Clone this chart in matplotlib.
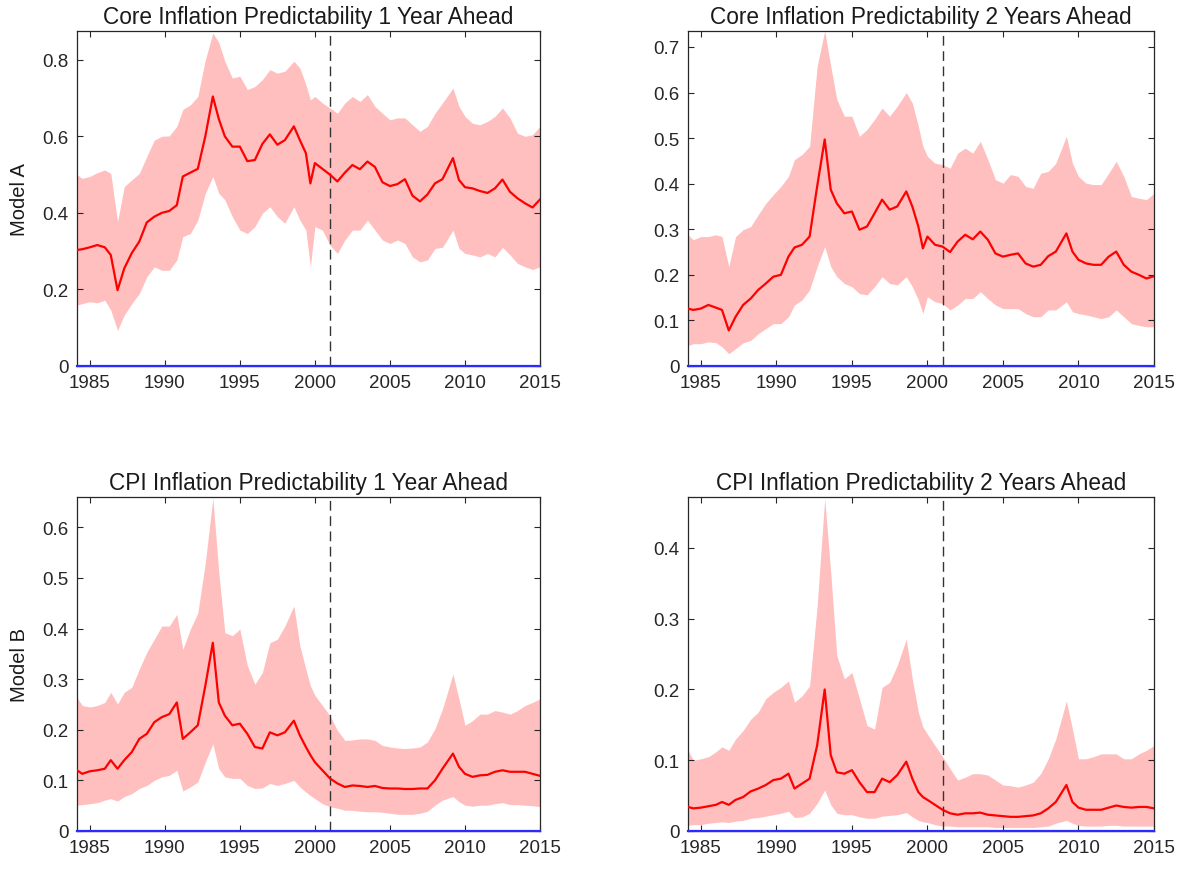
import matplotlib
matplotlib.use('Agg')
import matplotlib.pyplot as plt
from matplotlib.ticker import FormatStrFormatter
import numpy as np

plt.rcParams.update({
    'font.family': ['Liberation Sans', 'DejaVu Sans'],
    'font.size': 13.5,
    'text.color': '#262626',
    'axes.edgecolor': '#262626',
    'xtick.color': '#262626',
    'ytick.color': '#262626',
})

# shared time grid (years)
years = [1984.15, 1984.5, 1985.0, 1985.5, 1986.0, 1986.4, 1986.85, 1987.3, 1987.8, 1988.3,
         1988.8, 1989.3, 1989.8, 1990.3, 1990.8, 1991.2, 1991.7, 1992.2, 1992.7, 1993.2,
         1993.6, 1994.0, 1994.5, 1995.0, 1995.5, 1996.0, 1996.5, 1997.0, 1997.5, 1998.0,
         1998.6, 1999.0, 1999.4, 1999.7, 2000.0, 2000.5, 2001.0, 2001.5, 2002.0, 2002.5,
         2003.0, 2003.5, 2004.0, 2004.5, 2005.0, 2005.5, 2006.0, 2006.5, 2007.0, 2007.5,
         2008.0, 2008.5, 2009.2, 2009.6, 2010.0, 2010.5, 2011.0, 2011.5, 2012.0, 2012.5,
         2013.0, 2013.5, 2014.0, 2014.5, 2015.0]

# Core inflation, 1 year ahead (Model A)
core1_mid = [0.303, 0.305, 0.310, 0.316, 0.310, 0.290, 0.198, 0.255, 0.295, 0.325,
             0.375, 0.390, 0.400, 0.405, 0.420, 0.495, 0.505, 0.515, 0.600, 0.704,
             0.645, 0.600, 0.573, 0.573, 0.535, 0.538, 0.580, 0.605, 0.578, 0.590,
             0.626, 0.590, 0.556, 0.477, 0.530, 0.515, 0.500, 0.482, 0.505, 0.525,
             0.514, 0.534, 0.520, 0.480, 0.470, 0.475, 0.488, 0.445, 0.430, 0.448,
             0.477, 0.488, 0.543, 0.486, 0.467, 0.464, 0.457, 0.452, 0.464, 0.487,
             0.455, 0.438, 0.425, 0.414, 0.435]
core1_hi = [0.500, 0.490, 0.495, 0.505, 0.512, 0.503, 0.377, 0.469, 0.486, 0.503,
            0.547, 0.590, 0.600, 0.601, 0.626, 0.670, 0.682, 0.704, 0.800, 0.870,
            0.845, 0.796, 0.752, 0.757, 0.722, 0.730, 0.748, 0.774, 0.765, 0.770,
            0.796, 0.778, 0.735, 0.695, 0.704, 0.687, 0.674, 0.660, 0.687, 0.704,
            0.691, 0.709, 0.678, 0.660, 0.643, 0.648, 0.648, 0.630, 0.613, 0.626,
            0.660, 0.687, 0.726, 0.678, 0.652, 0.634, 0.630, 0.639, 0.652, 0.674,
            0.648, 0.608, 0.600, 0.604, 0.626]
core1_lo = [0.159, 0.163, 0.168, 0.165, 0.172, 0.146, 0.093, 0.133, 0.163, 0.189,
            0.233, 0.259, 0.250, 0.250, 0.277, 0.338, 0.346, 0.381, 0.451, 0.495,
            0.451, 0.434, 0.390, 0.355, 0.346, 0.364, 0.399, 0.416, 0.390, 0.373,
            0.416, 0.381, 0.355, 0.259, 0.364, 0.355, 0.316, 0.294, 0.329, 0.355,
            0.355, 0.381, 0.355, 0.329, 0.320, 0.329, 0.320, 0.285, 0.272, 0.277,
            0.307, 0.310, 0.355, 0.307, 0.294, 0.290, 0.285, 0.294, 0.285, 0.310,
            0.290, 0.268, 0.259, 0.252, 0.259]

# Core inflation, 2 years ahead (Model A)
core2_mid = [0.126, 0.123, 0.126, 0.134, 0.128, 0.123, 0.078, 0.108, 0.134, 0.148,
             0.167, 0.181, 0.196, 0.200, 0.240, 0.260, 0.266, 0.284, 0.394, 0.497,
             0.387, 0.357, 0.335, 0.339, 0.299, 0.306, 0.335, 0.365, 0.343, 0.350,
             0.383, 0.350, 0.306, 0.258, 0.284, 0.266, 0.262, 0.250, 0.273, 0.288,
             0.278, 0.295, 0.277, 0.247, 0.240, 0.244, 0.247, 0.225, 0.218, 0.222,
             0.241, 0.251, 0.291, 0.251, 0.233, 0.225, 0.222, 0.222, 0.240, 0.251,
             0.222, 0.207, 0.200, 0.192, 0.197]
core2_hi = [0.288, 0.277, 0.284, 0.284, 0.288, 0.284, 0.218, 0.284, 0.299, 0.306,
            0.332, 0.357, 0.376, 0.394, 0.416, 0.453, 0.464, 0.482, 0.658, 0.735,
            0.658, 0.585, 0.548, 0.548, 0.504, 0.519, 0.541, 0.566, 0.548, 0.570,
            0.600, 0.577, 0.526, 0.482, 0.460, 0.445, 0.442, 0.434, 0.467, 0.478,
            0.467, 0.493, 0.453, 0.409, 0.401, 0.420, 0.416, 0.394, 0.390, 0.423,
            0.427, 0.445, 0.504, 0.445, 0.416, 0.401, 0.398, 0.398, 0.423, 0.449,
            0.416, 0.372, 0.368, 0.365, 0.379]
core2_lo = [0.045, 0.049, 0.049, 0.053, 0.051, 0.042, 0.027, 0.038, 0.051, 0.056,
            0.071, 0.082, 0.093, 0.093, 0.108, 0.134, 0.145, 0.167, 0.218, 0.262,
            0.218, 0.196, 0.181, 0.174, 0.159, 0.156, 0.174, 0.196, 0.181, 0.178,
            0.196, 0.174, 0.145, 0.115, 0.152, 0.141, 0.137, 0.123, 0.134, 0.148,
            0.148, 0.163, 0.148, 0.134, 0.126, 0.126, 0.126, 0.115, 0.108, 0.108,
            0.123, 0.123, 0.141, 0.119, 0.115, 0.112, 0.108, 0.104, 0.108, 0.123,
            0.108, 0.093, 0.089, 0.086, 0.086]

# CPI inflation, 1 year ahead (Model B)
cpi1_mid = [0.120, 0.113, 0.118, 0.120, 0.123, 0.140, 0.123, 0.140, 0.156, 0.182,
            0.192, 0.215, 0.225, 0.231, 0.254, 0.182, 0.195, 0.209, 0.287, 0.372,
            0.254, 0.228, 0.209, 0.212, 0.192, 0.166, 0.163, 0.195, 0.189, 0.195,
            0.218, 0.189, 0.166, 0.150, 0.136, 0.120, 0.104, 0.094, 0.087, 0.090,
            0.089, 0.087, 0.089, 0.085, 0.084, 0.084, 0.083, 0.083, 0.084, 0.084,
            0.100, 0.123, 0.153, 0.127, 0.113, 0.107, 0.110, 0.111, 0.117, 0.120,
            0.117, 0.117, 0.117, 0.113, 0.109]
cpi1_hi = [0.264, 0.248, 0.245, 0.248, 0.254, 0.274, 0.251, 0.274, 0.284, 0.320,
           0.353, 0.379, 0.405, 0.405, 0.428, 0.359, 0.399, 0.431, 0.530, 0.658,
           0.510, 0.392, 0.386, 0.399, 0.327, 0.290, 0.313, 0.372, 0.379, 0.405,
           0.445, 0.366, 0.320, 0.287, 0.268, 0.248, 0.228, 0.199, 0.179, 0.180,
           0.182, 0.182, 0.179, 0.169, 0.166, 0.164, 0.163, 0.164, 0.166, 0.176,
           0.202, 0.241, 0.310, 0.261, 0.209, 0.218, 0.231, 0.231, 0.238, 0.235,
           0.231, 0.238, 0.248, 0.254, 0.261]
cpi1_lo = [0.051, 0.052, 0.054, 0.056, 0.061, 0.064, 0.059, 0.068, 0.074, 0.084,
           0.090, 0.100, 0.107, 0.110, 0.120, 0.079, 0.087, 0.097, 0.136, 0.172,
           0.123, 0.107, 0.104, 0.104, 0.090, 0.084, 0.085, 0.094, 0.090, 0.094,
           0.100, 0.087, 0.077, 0.070, 0.064, 0.054, 0.048, 0.045, 0.041, 0.041,
           0.039, 0.038, 0.038, 0.037, 0.035, 0.033, 0.033, 0.033, 0.035, 0.039,
           0.051, 0.061, 0.068, 0.058, 0.051, 0.049, 0.051, 0.051, 0.054, 0.056,
           0.052, 0.052, 0.051, 0.050, 0.048]

# CPI inflation, 2 years ahead (Model B)
cpi2_mid = [0.034, 0.032, 0.033, 0.035, 0.037, 0.041, 0.037, 0.044, 0.048, 0.056,
            0.060, 0.065, 0.072, 0.074, 0.081, 0.060, 0.067, 0.074, 0.121, 0.200,
            0.107, 0.083, 0.081, 0.086, 0.069, 0.055, 0.055, 0.074, 0.069, 0.079,
            0.098, 0.074, 0.055, 0.048, 0.044, 0.037, 0.030, 0.025, 0.023, 0.025,
            0.025, 0.026, 0.023, 0.022, 0.021, 0.020, 0.020, 0.021, 0.022, 0.025,
            0.032, 0.041, 0.065, 0.041, 0.033, 0.030, 0.030, 0.030, 0.033, 0.036,
            0.034, 0.033, 0.034, 0.034, 0.032]
cpi2_hi = [0.114, 0.100, 0.102, 0.105, 0.112, 0.119, 0.114, 0.130, 0.142, 0.158,
           0.168, 0.187, 0.196, 0.203, 0.212, 0.182, 0.191, 0.205, 0.318, 0.470,
           0.365, 0.248, 0.215, 0.224, 0.187, 0.149, 0.144, 0.203, 0.210, 0.234,
           0.271, 0.215, 0.168, 0.147, 0.137, 0.121, 0.105, 0.088, 0.072, 0.076,
           0.081, 0.081, 0.079, 0.072, 0.065, 0.064, 0.062, 0.065, 0.069, 0.081,
           0.102, 0.130, 0.184, 0.144, 0.102, 0.102, 0.105, 0.109, 0.109, 0.109,
           0.102, 0.102, 0.109, 0.114, 0.121]
cpi2_lo = [0.008, 0.009, 0.009, 0.011, 0.012, 0.013, 0.012, 0.014, 0.015, 0.018,
           0.019, 0.021, 0.023, 0.025, 0.028, 0.019, 0.020, 0.025, 0.039, 0.058,
           0.037, 0.025, 0.023, 0.023, 0.020, 0.018, 0.018, 0.021, 0.022, 0.023,
           0.026, 0.020, 0.015, 0.013, 0.012, 0.009, 0.007, 0.007, 0.006, 0.006,
           0.006, 0.006, 0.006, 0.005, 0.005, 0.005, 0.005, 0.005, 0.005, 0.006,
           0.007, 0.011, 0.015, 0.011, 0.008, 0.007, 0.007, 0.007, 0.008, 0.008,
           0.007, 0.007, 0.007, 0.007, 0.007]

panels = [
    ('Core Inflation Predictability 1 Year Ahead', core1_mid, core1_lo, core1_hi,
     0.875, np.arange(0, 0.81, 0.2), 'Model A'),
    ('Core Inflation Predictability 2 Years Ahead', core2_mid, core2_lo, core2_hi,
     0.735, np.arange(0, 0.71, 0.1), None),
    ('CPI Inflation Predictability 1 Year Ahead', cpi1_mid, cpi1_lo, cpi1_hi,
     0.66, np.arange(0, 0.61, 0.1), 'Model B'),
    ('CPI Inflation Predictability 2 Years Ahead', cpi2_mid, cpi2_lo, cpi2_hi,
     0.472, np.arange(0, 0.41, 0.1), None),
]
break_year = 2001.0
xticks = [1985, 1990, 1995, 2000, 2005, 2010, 2015]

W, H = 1194, 870
fig = plt.figure(figsize=(W / 100, H / 100), dpi=100)
boxes = [  # left, top, right, bottom in pixels
    (77, 32, 540, 367), (688, 32, 1154, 367),
    (77, 498, 540, 832), (688, 498, 1154, 832),
]

for (title, mid, lo, hi, ytop, yticks, ylab), (l, t, r, b) in zip(panels, boxes):
    ax = fig.add_axes([l / W, 1 - b / H, (r - l) / W, (b - t) / H])
    ax.fill_between(years, lo, hi, color='#ffbfbf', lw=0, zorder=1)
    ax.plot(years, mid, color='#ff0000', lw=1.6, zorder=3)
    ax.axvline(break_year, color='#333333', lw=1.0, ls=(0, (7, 4)), zorder=2)
    ax.axhline(0, color='#2b2bff', lw=1.6, clip_on=False, zorder=4)
    ax.set_xlim(years[0], 2015.0)
    ax.set_ylim(0, ytop)
    ax.set_xticks(xticks)
    ax.set_yticks(yticks)
    ax.yaxis.set_major_formatter(FormatStrFormatter('%g'))
    ax.tick_params(direction='in', top=True, right=True, length=4, width=0.8,
                   labelsize=13.5, pad=6)
    for s in ax.spines.values():
        s.set_linewidth(0.9)
    ax.set_title(title, fontsize=16.3, color='#1a1a1a', pad=6)
    if ylab:
        ax.set_ylabel(ylab, fontsize=14.5, color='#1a1a1a', labelpad=10)

plt.savefig('out.png', dpi=100)
plt.close()
